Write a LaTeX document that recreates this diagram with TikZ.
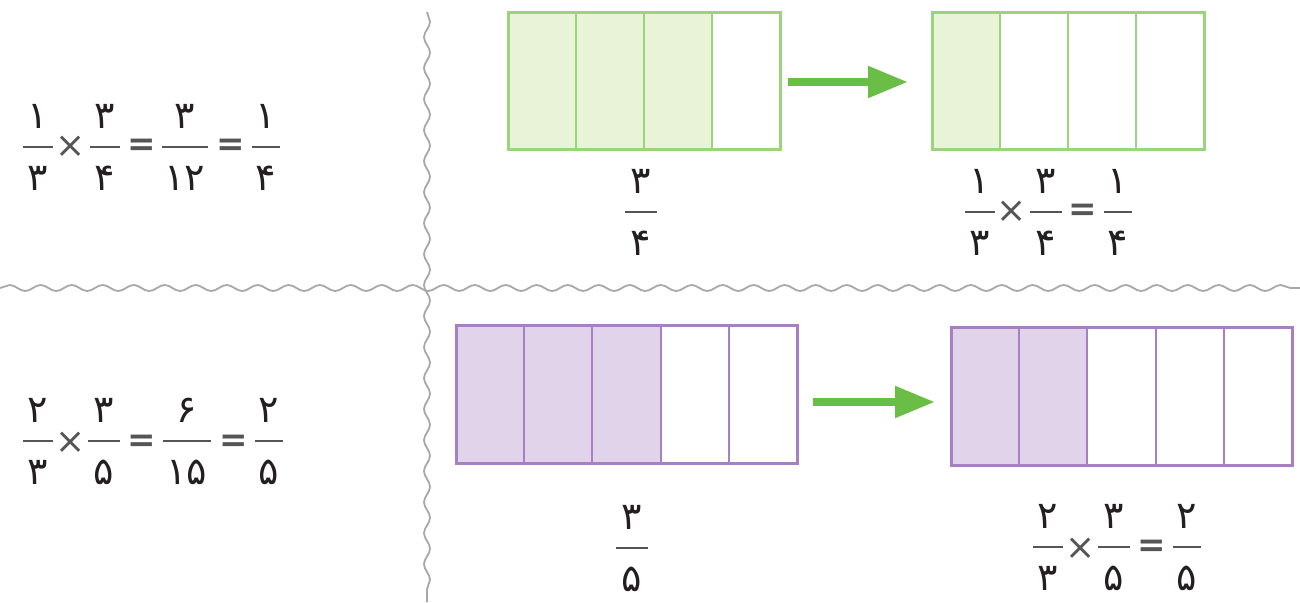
\documentclass[tikz,border=0pt]{standalone}
\usepackage{fontspec}
\newfontfamily\pfont[Script=Arabic]{DejaVu Sans}
\newfontfamily\opfont{DejaVu Sans}
\usetikzlibrary{arrows.meta,decorations.pathmorphing,calc}
\definecolor{gline}{HTML}{9CD47E}
\definecolor{gfill}{HTML}{E9F3D8}
\definecolor{garrow}{HTML}{6ABD45}
\definecolor{pline}{HTML}{A680C2}
\definecolor{pfill}{HTML}{E0D3EA}
\definecolor{ink}{HTML}{231F20}
\definecolor{wavec}{HTML}{A8A8A8}
\definecolor{barc}{HTML}{555555}
\tikzset{
  dig/.style={font=\pfont\fontsize{38}{44}\selectfont, text=ink, inner sep=0pt},
  opsym/.style={font=\opfont\fontsize{36}{44}\selectfont, text=barc, inner sep=0pt},
  eqsym/.style={font=\opfont\bfseries\fontsize{34}{40}\selectfont, text=barc, inner sep=0pt},
  fbar/.style={draw=barc, line width=2.5pt},
  wave/.style={draw=wavec, line width=1.8pt, decorate, decoration={snake, segment length=31pt, amplitude=3pt}},
  gbox/.style={inner sep=0pt, outer sep=0pt, minimum width=272pt, minimum height=136pt},
  pbox/.style={inner sep=0pt, outer sep=0pt, minimum width=341pt, minimum height=138pt},
  gborder/.style={draw=gline, line width=3pt},
  ginner/.style={draw=gline, line width=2pt},
  pborder/.style={draw=pline, line width=3pt},
  pinner/.style={draw=pline, line width=2pt},
  bigarrow/.style={draw=garrow, line width=8pt, -{Triangle[length=40pt,width=30pt]}},
}
% #1 name, #2 x, #3 bar y, #4 numerator, #5 denominator, #6 half bar length
\newcommand\myfrac[6]{%
  \node[dig] (#1n) at (#2,#3-31) {#4};
  \node[dig] (#1d) at (#2,#3+31) {#5};
  \coordinate (#1l) at (#2-#6,#3);
  \coordinate (#1r) at (#2+#6,#3);
  \draw[fbar] (#1l) -- (#1r);
}
\begin{document}
\begin{tikzpicture}[x=1pt,y=-1pt]
\useasboundingbox (0,0) rectangle (1300,602);
\fill[white] (0,0) rectangle (1300,602);

% separators
\coordinate (hl) at (0,288);
\coordinate (hr) at (1300,288);
\coordinate (vt) at (427,12);
\coordinate (vb) at (427,602);
\draw[wave] (hl) -- (hr);
\draw[wave] (vt) -- (vb);

% green bars
\node[gbox] (g1) at (644,81) {};
\node[gbox] (g2) at (1068,81) {};
\fill[gfill] (g1.north west) rectangle ($(g1.south west)+(204,0)$);
\fill[gfill] (g2.north west) rectangle ($(g2.south west)+(68,0)$);
\foreach \b in {g1,g2}{
  \foreach \i in {68,136,204}
    \draw[ginner] ($(\b.north west)+(\i,0)$) -- ($(\b.south west)+(\i,0)$);
  \draw[gborder] (\b.north west) rectangle (\b.south east);
}
\coordinate (ga) at ($(g1.east)+(8,1)$);
\coordinate (gb) at ($(g2.west)+(-24,1)$);
\draw[bigarrow] (ga) -- (gb);

% purple bars
\node[pbox] (p1) at (626.5,394) {};
\node[pbox] (p2) at (1121.5,396.5) {};
\fill[pfill] (p1.north west) rectangle ($(p1.south west)+(204.6,0)$);
\fill[pfill] (p2.north west) rectangle ($(p2.south west)+(136.4,0)$);
\foreach \b in {p1,p2}{
  \foreach \i in {68.2,136.4,204.6,272.8}
    \draw[pinner] ($(\b.north west)+(\i,0)$) -- ($(\b.south west)+(\i,0)$);
  \draw[pborder] (\b.north west) rectangle (\b.south east);
}
\coordinate (pa) at ($(p1.east)+(16,8)$);
\coordinate (pb) at ($(p2.west)+(-16,5.5)$);
\draw[bigarrow] (pa) -- (pb);

% top-left equation
\myfrac{a1}{38}{147}{۱}{۳}{15}
\node[opsym] (ax1) at (71,147) {×};
\myfrac{a2}{105}{147}{۳}{۴}{15}
\node[eqsym] (ae1) at (142,147) {=};
\myfrac{a3}{185}{147}{۳}{۱۲}{23}
\node[eqsym] (ae2) at (231,147) {=};
\myfrac{a4}{266}{147}{۱}{۴}{14}

% bottom-left equation
\myfrac{b1}{38}{441}{۲}{۳}{15}
\node[opsym] (bx1) at (71,443) {×};
\myfrac{b2}{104}{441}{۳}{۵}{16}
\node[eqsym] (be1) at (142,443) {=};
\myfrac{b3}{187}{441}{۶}{۱۵}{24}
\node[eqsym] (be2) at (234,443) {=};
\myfrac{b4}{269}{441}{۲}{۵}{14}

% top labels
\myfrac{c0}{641}{212}{۳}{۴}{16}
\myfrac{c1}{980}{212}{۱}{۳}{15}
\node[opsym] (cx1) at (1012,212) {×};
\myfrac{c2}{1046}{212}{۳}{۴}{16}
\node[eqsym] (ce1) at (1083,212) {=};
\myfrac{c3}{1118}{212}{۱}{۴}{14}

% bottom labels
\myfrac{d0}{632}{548}{۳}{۵}{16}
\myfrac{d1}{1048}{547}{۲}{۳}{15}
\node[opsym] (dx1) at (1081,549) {×};
\myfrac{d2}{1114}{547}{۳}{۵}{16}
\node[eqsym] (de1) at (1152,548) {=};
\myfrac{d3}{1187}{547}{۲}{۵}{14}
\end{tikzpicture}
\end{document}
